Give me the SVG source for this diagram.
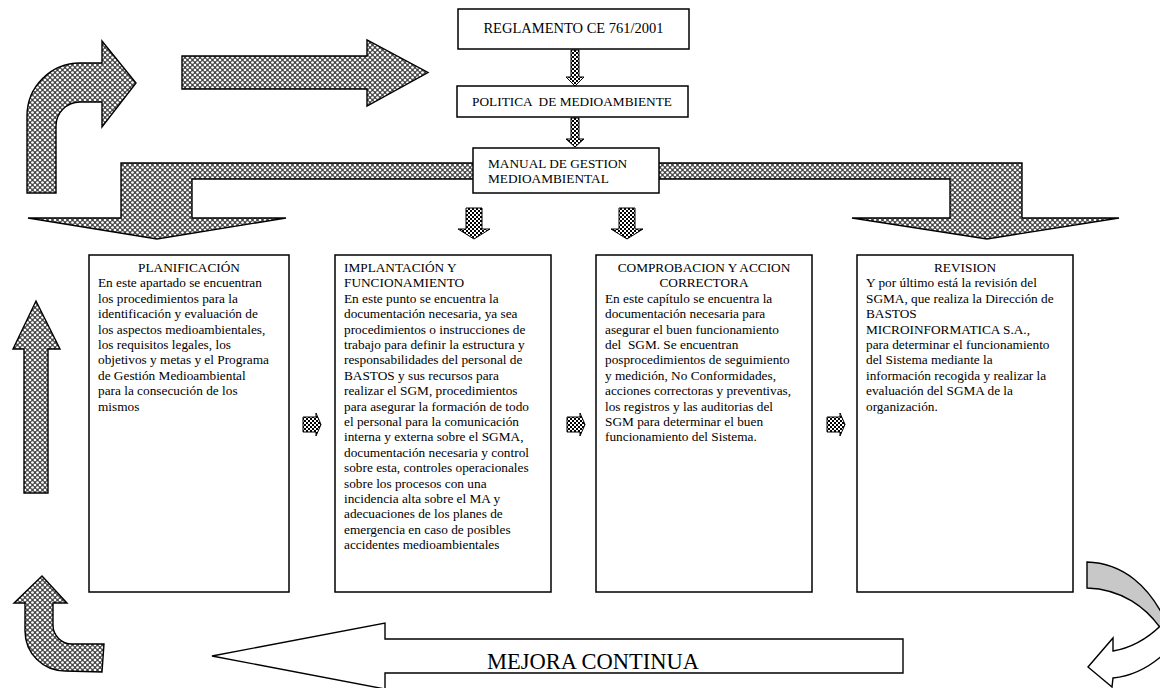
<svg xmlns="http://www.w3.org/2000/svg" width="1160" height="688" viewBox="0 0 1160 688">
<defs>
<pattern id="dots" patternUnits="userSpaceOnUse" width="5" height="5">
<rect width="5" height="5" fill="#444"/>
<circle cx="0" cy="0" r="1.35" fill="#fff"/><circle cx="5" cy="0" r="1.35" fill="#fff"/>
<circle cx="0" cy="5" r="1.35" fill="#fff"/><circle cx="5" cy="5" r="1.35" fill="#fff"/>
<circle cx="2.5" cy="2.5" r="1.35" fill="#fff"/>
</pattern>
<pattern id="check" patternUnits="userSpaceOnUse" width="4" height="4">
<rect width="4" height="4" fill="#fff"/>
<rect width="2" height="2" fill="#000"/><rect x="2" y="2" width="2" height="2" fill="#000"/>
</pattern>
<style>
.big{fill:url(#dots);stroke:#000;stroke-width:1.4;stroke-linejoin:miter}
.small{fill:url(#check);stroke:#000;stroke-width:1}
.box{fill:#fff;stroke:#000;stroke-width:1.5}
text{font-family:'Liberation Serif','Times New Roman',serif;font-size:13.3px;fill:#000;white-space:pre}
.c{text-anchor:middle}
</style>
</defs>
<rect width="1160" height="688" fill="#fff"/>
<g id="connectors">
<path class="big" d="M27,193 L27,116 A53,53 0 0 1 80,63 L102,63 L102,41 L136,83 L102,127 L102,102 L80,102 A24,24 0 0 0 56,126 L56,193 Z"/>
<path class="big" d="M182,56 L367,56 L367,40 L428,72.5 L367,106 L367,89 L182,89 Z"/>
<path class="big" d="M121,163 L1022,163 L1022,218 L1119,218 L987,239 L852,218 L950,218 L950,179 L192,179 L192,218 L286,218 L157,239 L28,218 L121,218 Z"/>
<path class="big" d="M36,301 L60,349 L48,349 L48,493 L24,493 L24,349 L13,349 Z"/>
<path class="big" d="M42,576 L67,603 L53,603 L53,625 A19,19 0 0 0 72,644 L104,644 L102,672 L65,671 A40,40 0 0 1 25,631 L25,603 L14,603 Z"/>
<path fill="#c8c8c8" stroke="#000" stroke-width="1.4" d="M1087,562 C1122,563 1150,585 1168,626 L1168,640 C1148,604 1118,589 1087,588 Z"/>
<path fill="#fff" stroke="#000" stroke-width="1.4" d="M1113,651 C1130,648 1148,640 1166,620 L1168,650 C1150,668 1132,676 1113,678 L1112,687 L1088,667 L1113,638 Z"/>
<path class="small" d="M571,50 L579,50 L579,77 L584,77 L575,86 L566,77 L571,77 Z"/>
<path class="small" d="M571,118 L579,118 L579,139 L584,139 L575,147 L566,139 L571,139 Z"/>
<path class="small" d="M466,208 L482,208 L482,229 L490,229 L474,239 L458,229 L466,229 Z"/>
<path class="small" d="M619,208 L635,208 L635,229 L643,229 L627,239 L611,229 L619,229 Z"/>
<path class="small" d="M303,417 L316,417 L316,413 L321,424.5 L316,436 L316,432 L303,432 Z"/>
<path class="small" d="M567,417 L580,417 L580,413 L585,424.5 L580,436 L580,432 L567,432 Z"/>
<path class="small" d="M827,417 L840,417 L840,413 L845,424.5 L840,436 L840,432 L827,432 Z"/>
</g>
<g id="reglamento">
<rect class="box" x="458" y="9" width="231" height="40"/>
<text class="c" x="573.5" y="33" style="font-size:14.5px">REGLAMENTO CE 761/2001</text>
</g>
<g id="politica">
<rect class="box" x="457" y="86" width="231" height="31"/>
<text class="c" x="572" y="105.5">POLITICA  DE MEDIOAMBIENTE</text>
</g>
<g id="manual">
<rect class="box" x="473" y="148" width="186" height="45"/>
<text x="488" y="168">MANUAL DE GESTION</text>
<text x="488" y="183">MEDIOAMBIENTAL</text>
</g>
<g id="planificacion">
<rect class="box" x="89" y="255" width="200" height="337"/>
<text class="c" x="189" y="272">PLANIFICACIÓN</text>
<text x="98" y="287.4">En este apartado se encuentran<tspan x="98" dy="15.4">los procedimientos para la</tspan><tspan x="98" dy="15.4">identificación y evaluación de</tspan><tspan x="98" dy="15.4">los aspectos medioambientales,</tspan><tspan x="98" dy="15.4">los requisitos legales, los</tspan><tspan x="98" dy="15.4">objetivos y metas y el Programa</tspan><tspan x="98" dy="15.4">de Gestión Medioambiental</tspan><tspan x="98" dy="15.4">para la consecución de los</tspan><tspan x="98" dy="15.4">mismos</tspan></text>
</g>
<g id="implantacion">
<rect class="box" x="335" y="255" width="216" height="337"/>
<text x="344" y="272">IMPLANTACIÓN Y<tspan x="344" dy="15.4">FUNCIONAMIENTO</tspan><tspan x="344" dy="15.4">En este punto se encuentra la</tspan><tspan x="344" dy="15.4">documentación necesaria, ya sea</tspan><tspan x="344" dy="15.4">procedimientos o instrucciones de</tspan><tspan x="344" dy="15.4">trabajo para definir la estructura y</tspan><tspan x="344" dy="15.4">responsabilidades del personal de</tspan><tspan x="344" dy="15.4">BASTOS y sus recursos para</tspan><tspan x="344" dy="15.4">realizar el SGM, procedimientos</tspan><tspan x="344" dy="15.4">para asegurar la formación de todo</tspan><tspan x="344" dy="15.4">el personal para la comunicación</tspan><tspan x="344" dy="15.4">interna y externa sobre el SGMA,</tspan><tspan x="344" dy="15.4">documentación necesaria y control</tspan><tspan x="344" dy="15.4">sobre esta, controles operacionales</tspan><tspan x="344" dy="15.4">sobre los procesos con una</tspan><tspan x="344" dy="15.4">incidencia alta sobre el MA y</tspan><tspan x="344" dy="15.4">adecuaciones de los planes de</tspan><tspan x="344" dy="15.4">emergencia en caso de posibles</tspan><tspan x="344" dy="15.4">accidentes medioambientales</tspan></text>
</g>
<g id="comprobacion">
<rect class="box" x="596" y="255" width="216" height="337"/>
<text class="c" x="704" y="272">COMPROBACION Y ACCION</text>
<text class="c" x="704" y="287.4">CORRECTORA</text>
<text x="605" y="302.8">En este capítulo se encuentra la<tspan x="605" dy="15.4">documentación necesaria para</tspan><tspan x="605" dy="15.4">asegurar el buen funcionamiento</tspan><tspan x="605" dy="15.4">del  SGM. Se encuentran</tspan><tspan x="605" dy="15.4">posprocedimientos de seguimiento</tspan><tspan x="605" dy="15.4">y medición, No Conformidades,</tspan><tspan x="605" dy="15.4">acciones correctoras y preventivas,</tspan><tspan x="605" dy="15.4">los registros y las auditorias del</tspan><tspan x="605" dy="15.4">SGM para determinar el buen</tspan><tspan x="605" dy="15.4">funcionamiento del Sistema.</tspan></text>
</g>
<g id="revision">
<rect class="box" x="857" y="255" width="216" height="337"/>
<text class="c" x="965" y="272">REVISION</text>
<text x="866" y="287.4">Y por último está la revisión del<tspan x="866" dy="15.4">SGMA, que realiza la Dirección de</tspan><tspan x="866" dy="15.4">BASTOS</tspan><tspan x="866" dy="15.4">MICROINFORMATICA S.A.,</tspan><tspan x="866" dy="15.4">para determinar el funcionamiento</tspan><tspan x="866" dy="15.4">del Sistema mediante la</tspan><tspan x="866" dy="15.4">información recogida y realizar la</tspan><tspan x="866" dy="15.4">evaluación del SGMA de la</tspan><tspan x="866" dy="15.4">organización.</tspan></text>
</g>
<g id="mejora">
<path fill="#fff" stroke="#000" stroke-width="1.4" d="M212,656 L385,623 L385,639 L903,639 L903,673 L385,673 L385,689 Z"/>
<text class="c" x="593" y="669" style="font-size:22.5px">MEJORA CONTINUA</text>
</g>
</svg>
